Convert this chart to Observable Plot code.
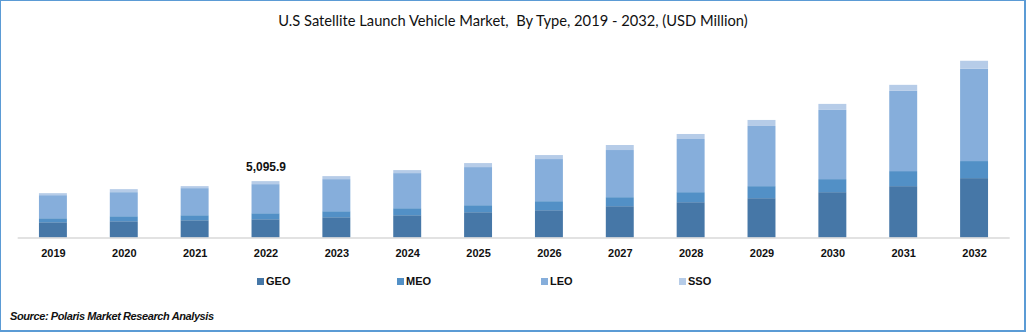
<!DOCTYPE html>
<html>
<head>
<meta charset="utf-8">
<script src="https://cdn.jsdelivr.net/npm/d3@7"></script>
<script src="https://cdn.jsdelivr.net/npm/@observablehq/plot@0.6"></script>
<style>
  html, body { margin: 0; padding: 0; background: #fff; }
  #frame { position: relative; width: 1026px; height: 332px; box-sizing: border-box;
           border: 1px solid #5b9bd5; border-right-width: 2px; border-bottom-width: 2px; overflow: hidden; font-family: Lato, "Liberation Sans", sans-serif; }
  #title { position: absolute; top: 10px; left: 0; width: 1024px; text-align: center; font-size: 14.7px; color: #111; white-space: pre; }
  #chart { position: absolute; top: 39px; left: -1px; }
  .leg { position: absolute; top: 274px; font-size: 11px; font-weight: bold; color: #111; font-family: "Liberation Sans", sans-serif; }
  .sw { display: inline-block; width: 7px; height: 7px; margin-right: 2px; vertical-align: 0px; }
  #source { position: absolute; left: 9px; top: 309px; font-size: 11px; font-weight: bold; font-style: italic; color: #111; font-family: "Liberation Sans", sans-serif; letter-spacing: -0.4px; white-space: pre; }
</style>
</head>
<body>
<div id="frame">
  <div id="title"></div>
  <div id="chart"></div>
  <div id="legend"></div>
  <div id="source"></div>
</div>
<script>
const titleText = "U.S Satellite Launch Vehicle Market,  By Type, 2019 - 2032, (USD Million)";
const sourceText = "Source: Polaris Market Research Analysis";
const years = ["2019","2020","2021","2022","2023","2024","2025","2026","2027","2028","2029","2030","2031","2032"];
const types = ["GEO","MEO","LEO","SSO"];
const colors = ["#4677a7","#5290c6","#86aedb","#b6cce8"];
const geo = [1385,1475,1566,1656,1837,2018,2290,2471,2833,3195,3557,4100,4643,5367];
const meo = [362,453,453,543,543,634,634,815,815,905,1086,1177,1358,1539];
const leo = [2082,2172,2444,2625,2896,3168,3439,3801,4254,4797,5430,6245,7240,8326];
const sso = [181,272,181,272,272,272,362,362,453,453,543,543,543,724];
const labelYears = ["2022"];
const labelTexts = ["5,095.9"];
const legendX = [257, 397, 541, 679];

const series = [geo, meo, leo, sso];
const rows = [];
years.forEach((y, i) => types.forEach((t, j) => rows.push({year: y, type: t, value: series[j][i]})));
const totals = years.map((y, i) => ({year: y, total: geo[i] + meo[i] + leo[i] + sso[i]}));
const labels = labelYears.map((y, k) => ({year: y, total: totals[years.indexOf(y)].total, text: labelTexts[k]}));

document.getElementById("title").textContent = titleText;
document.getElementById("source").textContent = sourceText;

const plot = Plot.plot({
  width: 1026,
  height: 226,
  marginTop: 0,
  marginBottom: 28,
  marginLeft: 17.7,
  marginRight: 14.3,
  style: {fontFamily: "'Liberation Sans', sans-serif", background: "transparent", overflow: "visible"},
  x: {domain: years, paddingInner: 0.6, paddingOuter: 0.3, label: null},
  y: {domain: [0, 17830], axis: null},
  color: {domain: types, range: colors},
  marks: [
    Plot.barY(rows, {x: "year", y: "value", fill: "type", order: types}),
    Plot.ruleY([0], {stroke: "#d9d9d9", strokeWidth: 1.5}),
    Plot.axisX({tickSize: 0, tickPadding: 11, fontSize: 11, fontWeight: "bold", fill: "#111"}),
    Plot.text(labels, {x: "year", y: "total", text: "text", dy: -14, fontSize: 12, fontWeight: "bold", fill: "#111"})
  ]
});
document.getElementById("chart").appendChild(plot);

const legend = document.getElementById("legend");
types.forEach((t, j) => {
  const d = document.createElement("div");
  d.className = "leg";
  d.style.left = (legendX[j] - 1) + "px";
  d.innerHTML = `<span class="sw" style="background:${colors[j]}"></span>${t}`;
  legend.appendChild(d);
});
</script>
</body>
</html>
